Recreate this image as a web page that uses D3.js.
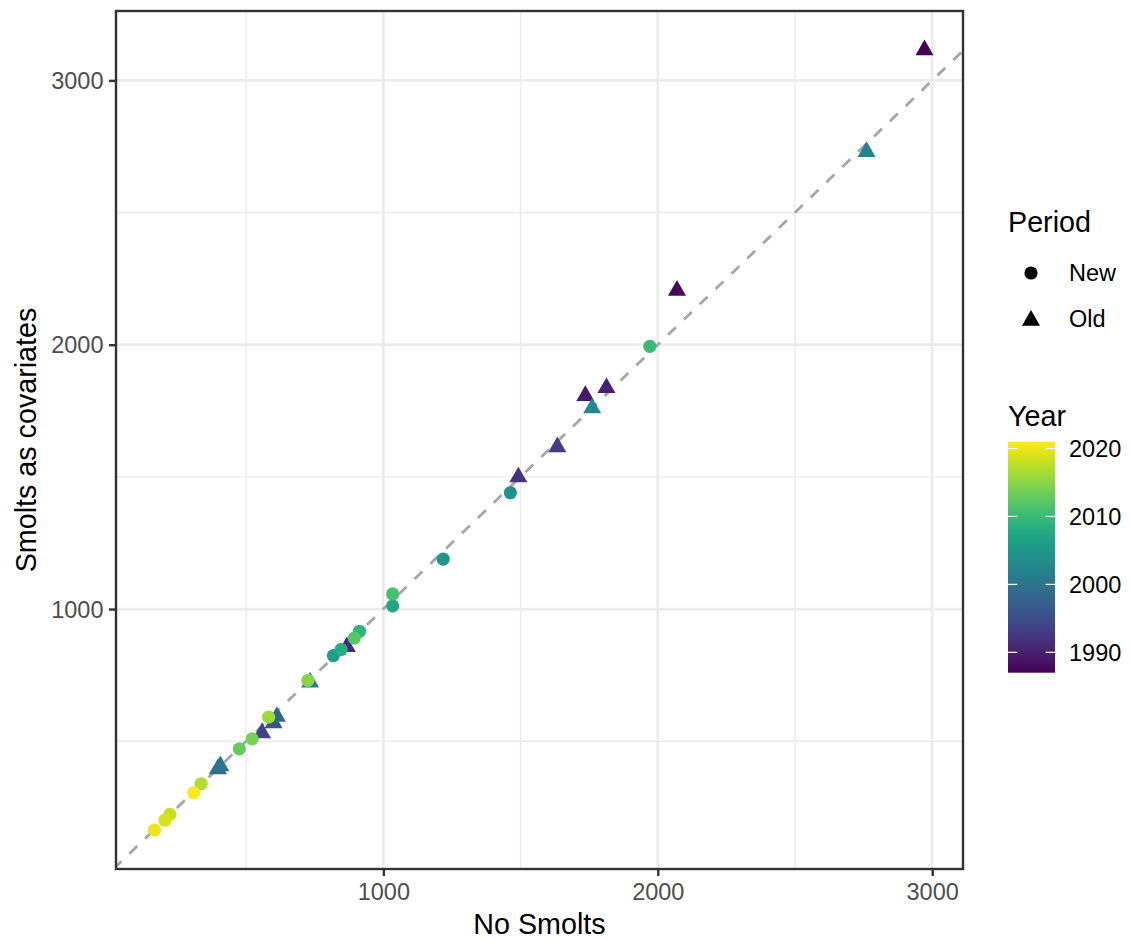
<!DOCTYPE html>
<html>
<head>
<meta charset="utf-8">
<script src="https://cdn.jsdelivr.net/npm/d3@7"></script>
<style>
  html, body { margin: 0; padding: 0; background: #ffffff; }
  svg { display: block; font-family: "Liberation Sans", Arial, Helvetica, sans-serif; }
</style>
</head>
<body>
<svg id="chart" width="1130" height="940"></svg>
<script>
// ---- data ----
const years     = [1987, 1988, 1989, 1990, 1991, 1992, 1993, 1994, 1996, 1998, 1999, 2000, 2001, 2002, 2003,
                   2004, 2005, 2006, 2007, 2008, 2009, 2010, 2011, 2012, 2013, 2014, 2015, 2016, 2017, 2018, 2019, 2020, 2021];
const periods   = ["Old","Old","Old","Old","Old","Old","Old","Old","Old","Old","Old","Old","Old","Old","Old",
                   "New","New","New","New","New","New","New","New","New","New","New","New","New","New","New","New","New","New"];
const noSmolts  = [2972, 2070, 1736, 1813, 867, 1492, 1634, 558, 600, 612, 397, 406, 733, 2761, 1761,
                   1463, 1218, 818, 1034, 846, 913, 1971, 1034, 894, 475, 522, 725, 582, 336, 222, 204, 166, 309];
const smoltsCov = [3115, 2205, 1807, 1837, 857, 1499, 1613, 531, 569, 593, 395, 406, 723, 2730, 1760,
                   1440, 1189, 824, 1012, 847, 916, 1994, 1057, 890, 471, 509, 730, 591, 339, 223, 201, 164, 305];
const axisTicks = [1000, 2000, 3000];
const minorTicks = [500, 1500, 2500];
const periodLevels = ["New", "Old"];
const yearTicks = [1990, 2000, 2010, 2020];

// ---- layout ----
const svg = d3.select("#chart");
const panel = { left: 116, right: 963, top: 11, bottom: 869 };

function expand(ext) { const r = ext[1] - ext[0]; return [ext[0] - 0.05 * r, ext[1] + 0.05 * r]; }
const x = d3.scaleLinear().domain(expand(d3.extent(noSmolts))).range([panel.left, panel.right]);
const y = d3.scaleLinear().domain(expand(d3.extent(smoltsCov))).range([panel.bottom, panel.top]);
const color = d3.scaleSequential(d3.interpolateViridis).domain(d3.extent(years));

const pw = panel.right - panel.left, ph = panel.bottom - panel.top;

svg.append("defs").append("clipPath").attr("id", "clip")
  .append("rect").attr("x", panel.left).attr("y", panel.top).attr("width", pw).attr("height", ph);

// panel background
svg.append("rect").attr("x", panel.left).attr("y", panel.top).attr("width", pw).attr("height", ph).attr("fill", "#ffffff");

// grid lines
const grid = svg.append("g").attr("clip-path", "url(#clip)");
grid.selectAll(".vminor").data(minorTicks).join("line")
  .attr("x1", d => x(d)).attr("x2", d => x(d)).attr("y1", panel.top).attr("y2", panel.bottom)
  .attr("stroke", "#ebebeb").attr("stroke-width", 1.4);
grid.selectAll(".hminor").data(minorTicks).join("line")
  .attr("y1", d => y(d)).attr("y2", d => y(d)).attr("x1", panel.left).attr("x2", panel.right)
  .attr("stroke", "#ebebeb").attr("stroke-width", 1.4);
grid.selectAll(".vmajor").data(axisTicks).join("line")
  .attr("x1", d => x(d)).attr("x2", d => x(d)).attr("y1", panel.top).attr("y2", panel.bottom)
  .attr("stroke", "#ebebeb").attr("stroke-width", 2.7);
grid.selectAll(".hmajor").data(axisTicks).join("line")
  .attr("y1", d => y(d)).attr("y2", d => y(d)).attr("x1", panel.left).attr("x2", panel.right)
  .attr("stroke", "#ebebeb").attr("stroke-width", 2.7);

// y = x reference line
const lo = Math.min(x.domain()[0], y.domain()[0]), hi = Math.max(x.domain()[1], y.domain()[1]);
grid.append("line")
  .attr("x1", x(lo)).attr("y1", y(lo)).attr("x2", x(hi)).attr("y2", y(hi))
  .attr("stroke", "#a6a6a6").attr("stroke-width", 2.8).attr("stroke-dasharray", "11,11");

// points
const data = years.map((yr, i) => ({ year: yr, period: periods[i], xv: noSmolts[i], yv: smoltsCov[i] }))
  .sort((a, b) => a.year - b.year);
const R = 6.7;
function triPath(cx, cy) {
  const r = 1.5551 * R, xc = 1.3468 * R, yc = 0.7776 * R;
  return `M${cx},${cy - r}L${cx + xc},${cy + yc}L${cx - xc},${cy + yc}Z`;
}
const pts = svg.append("g").attr("clip-path", "url(#clip)");
data.forEach(d => {
  if (d.period === "New") {
    pts.append("circle").attr("cx", x(d.xv)).attr("cy", y(d.yv)).attr("r", 6.6).attr("fill", color(d.year));
  } else {
    pts.append("path").attr("d", triPath(x(d.xv), y(d.yv))).attr("fill", color(d.year));
  }
});

// panel border
svg.append("rect").attr("x", panel.left).attr("y", panel.top).attr("width", pw).attr("height", ph)
  .attr("fill", "none").attr("stroke", "#333333").attr("stroke-width", 2.4);

// axes
const xAxis = d3.axisBottom(x).tickValues(axisTicks).tickSize(7).tickPadding(6).tickFormat(d3.format("d"));
const yAxis = d3.axisLeft(y).tickValues(axisTicks).tickSize(7).tickPadding(6).tickFormat(d3.format("d"));
const gx = svg.append("g").attr("transform", `translate(0,${panel.bottom})`).call(xAxis);
const gy = svg.append("g").attr("transform", `translate(${panel.left},0)`).call(yAxis);
[gx, gy].forEach(g => {
  g.select(".domain").remove();
  g.selectAll(".tick line").attr("stroke", "#333333").attr("stroke-width", 2.4);
  g.selectAll(".tick text").attr("fill", "#4d4d4d").attr("font-size", 23.5)
    .attr("font-family", "'Liberation Sans', Arial, sans-serif");
});
gx.selectAll(".tick text").attr("dy", null).attr("y", 31);
gy.selectAll(".tick text").attr("dy", null).attr("y", 8).attr("x", -12.5);

// axis titles
svg.append("text").attr("x", (panel.left + panel.right) / 2).attr("y", 934)
  .attr("text-anchor", "middle").attr("font-size", 28.7).attr("fill", "#000").text("No Smolts");
svg.append("text").attr("transform", `translate(36,${(panel.top + panel.bottom) / 2}) rotate(-90)`)
  .attr("text-anchor", "middle").attr("font-size", 28.7).attr("fill", "#000").text("Smolts as covariates");

// legend: Period
const lg = svg.append("g");
lg.append("text").attr("x", 1008).attr("y", 232).attr("font-size", 28.7).text("Period");
periodLevels.forEach((p, i) => {
  const cy = 273 + i * 46;
  if (p === "New") {
    lg.append("circle").attr("cx", 1031).attr("cy", cy).attr("r", 6.6).attr("fill", "#000");
  } else {
    lg.append("path").attr("d", triPath(1031, cy + 1.5)).attr("fill", "#000");
  }
  lg.append("text").attr("x", 1069).attr("y", cy + 8.2).attr("font-size", 23.5).text(p);
});

// legend: Year colourbar
const cb = { x: 1008, y: 441.7, w: 47, h: 231 };
lg.append("text").attr("x", 1008).attr("y", 426).attr("font-size", 28.7).text("Year");
const grad = svg.select("defs").append("linearGradient").attr("id", "yeargrad")
  .attr("x1", 0).attr("y1", 1).attr("x2", 0).attr("y2", 0);
d3.range(0, 1.0001, 0.05).forEach(t => {
  grad.append("stop").attr("offset", t).attr("stop-color", d3.interpolateViridis(t));
});
lg.append("rect").attr("x", cb.x).attr("y", cb.y).attr("width", cb.w).attr("height", cb.h).attr("fill", "url(#yeargrad)");
const cbScale = d3.scaleLinear().domain(color.domain()).range([cb.y + cb.h, cb.y]);
yearTicks.forEach(t => {
  const ty = cbScale(t);
  lg.append("line").attr("x1", cb.x).attr("x2", cb.x + cb.w / 5).attr("y1", ty).attr("y2", ty)
    .attr("stroke", "#ffffff").attr("stroke-width", 1.2);
  lg.append("line").attr("x1", cb.x + cb.w - cb.w / 5).attr("x2", cb.x + cb.w).attr("y1", ty).attr("y2", ty)
    .attr("stroke", "#ffffff").attr("stroke-width", 1.2);
  lg.append("text").attr("x", 1069).attr("y", ty + 8.2).attr("font-size", 23.5).text(t);
});
</script>
</body>
</html>
